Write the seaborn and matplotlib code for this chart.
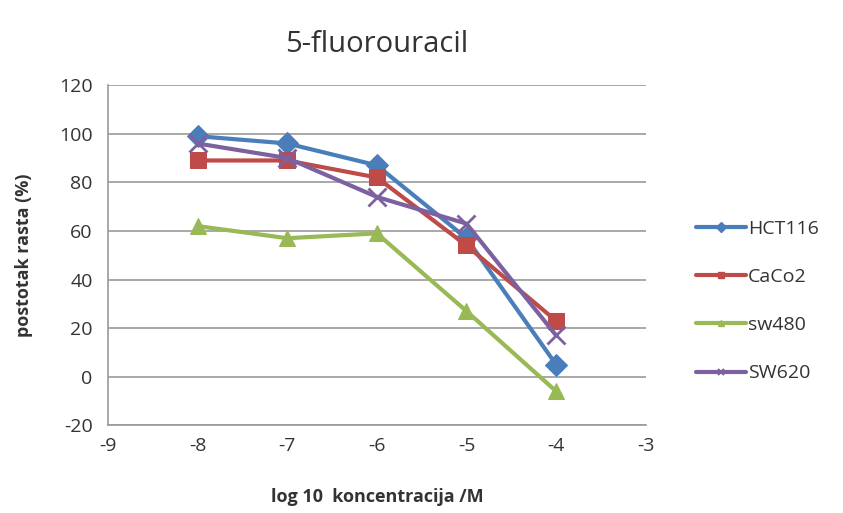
import pandas as pd
import numpy as np
import seaborn as sns
import matplotlib.pyplot as plt

log_conc = [-8, -7, -6, -5, -4]
hct116 = [99, 96, 87, 57, 5]
caco2 = [89, 89, 82, 54, 23]
sw480 = [62, 57, 59, 27, -6]
sw620 = [96, 90, 74, 63, 17]
lines = ['HCT116', 'CaCo2', 'sw480', 'SW620']

df = pd.DataFrame({
    'conc': log_conc * 4,
    'rast': hct116 + caco2 + sw480 + sw620,
    'linija': np.repeat(lines, len(log_conc)),
})

sns.set_style("white")
plt.rcParams['font.family'] = ['Open Sans', 'DejaVu Sans']
plt.rcParams['axes.unicode_minus'] = False

palette = {
    'HCT116': '#4A7EBB',
    'CaCo2': '#BE4B48',
    'sw480': '#98B954',
    'SW620': '#7D60A0'
}
markers = {'HCT116': 'D', 'CaCo2': 's', 'sw480': '^', 'SW620': 'X'}

fig = plt.figure(figsize=(8.43, 5.13), dpi=100)
ax = fig.add_axes([0.128, 0.171, 0.638, 0.663])

sns.lineplot(data=df, x='conc', y='rast', hue='linija', style='linija',
             palette=palette, markers=markers, dashes=False, linewidth=3,
             markersize=11, ax=ax, legend=False)
for ln in ax.get_lines():
    ln.set_markeredgecolor(ln.get_color())
    if ln.get_marker() == 'X':
        ln.set_marker('x')
        ln.set_markeredgewidth(2)
        ln.set_markersize(13)

handles = []
for name in lines:
    m = markers[name] if markers[name] != 'X' else 'x'
    h, = ax.plot([], [], color=palette[name], marker=m, lw=3, markersize=5,
                 markeredgewidth=1.5 if m == 'x' else 1)
    handles.append(h)
ax.legend(handles, lines, loc='center left', bbox_to_anchor=(1.06, 0.365),
          frameon=False, fontsize=14, handlelength=2.6, handletextpad=0.1,
          labelspacing=1.55, labelcolor='#333333')

ax.set_xlim(-9, -3)
ax.set_ylim(-20, 120)
ax.set_xticks(range(-9, -2))
ax.set_yticks(range(-20, 121, 20))
ax.yaxis.grid(True, color='#9a9a9a', lw=1.2)
ax.xaxis.grid(False)
for s in ['top', 'right']:
    ax.spines[s].set_visible(False)
for s in ['left', 'bottom']:
    ax.spines[s].set_color('#9a9a9a')
    ax.spines[s].set_linewidth(1.2)
ax.tick_params(axis='both', colors='#9a9a9a', length=5, width=1.2,
               labelsize=14, labelcolor='#333333', direction='out')
ax.tick_params(axis='y', pad=6)

ax.set_title('5-fluorouracil', fontsize=21, color='#333333', pad=24)
ax.set_xlabel('log 10  koncentracija /M', fontsize=13, fontweight='bold',
              color='#333333', labelpad=24)
ax.set_ylabel('postotak rasta (%)', fontsize=13, fontweight='bold',
              color='#333333', labelpad=19)

plt.savefig('out.png', dpi=100)
